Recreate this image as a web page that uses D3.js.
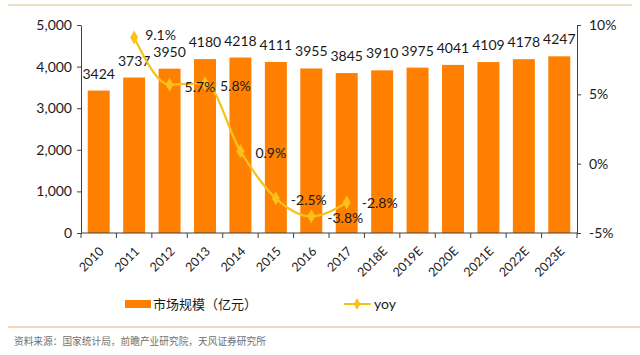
<!DOCTYPE html>
<html><head><meta charset="utf-8">
<script src="https://cdn.jsdelivr.net/npm/d3@7"></script>
<style>body{margin:0;background:#fff}svg{display:block;font-family:"Noto Sans CJK SC","Noto Sans",sans-serif}</style>
</head><body><svg id="c" width="640" height="355"></svg>
<script>
const categories=["2010","2011","2012","2013","2014","2015","2016","2017","2018E","2019E","2020E","2021E","2022E","2023E"];
const marketSize=[3424,3737,3950,4180,4218,4111,3955,3845,3910,3975,4041,4109,4178,4247];
const yoyCats=["2011","2012","2013","2014","2015","2016","2017"];
const yoyValues=[9.1,5.7,5.8,0.9,-2.5,-3.8,-2.8];
const leftTicks=[0,1000,2000,3000,4000,5000];
const rightTicks=[-5,0,5,10];

const svg=d3.select("#c");
const L=81,R=577,T=25,B=233;
const x=d3.scaleBand().domain(categories).range([L,R]).paddingInner(0.38).paddingOuter(0.19);
const xb=d3.scaleBand().domain(categories).range([L,R]);
const y=d3.scaleLinear().domain([0,5000]).range([B,T]);
const y2=d3.scaleLinear().domain([-5,10]).range([B,T]);
const NUM='Lato, "Liberation Sans", sans-serif';
const INK="#1a1a1a";

svg.append("line").attr("x1",8).attr("x2",632).attr("y1",5).attr("y2",5).attr("stroke","#e3d3b3").attr("stroke-width",1.5);

svg.append("g").selectAll("rect").data(marketSize).join("rect")
 .attr("x",(d,i)=>x(categories[i])).attr("width",x.bandwidth())
 .attr("y",d=>y(d)).attr("height",d=>B-y(d)).attr("fill","#ff8000");

svg.append("g").selectAll("text").data(marketSize).join("text")
 .attr("x",(d,i)=>xb(categories[i])+xb.bandwidth()/2).attr("y",d=>y(d)-12)
 .attr("text-anchor","middle").attr("font-size",14).attr("fill",INK).attr("font-family",NUM)
 .text(d=>d);

// axes
const ga=svg.append("g").attr("transform",`translate(${L},0)`).call(d3.axisLeft(y).tickValues(leftTicks).tickFormat(d3.format(",")).tickSize(4).tickSizeOuter(0));
ga.selectAll("text").attr("font-size",14).attr("fill",INK).attr("x",-9).attr("font-family",NUM);
const gr=svg.append("g").attr("transform",`translate(${R},0)`).call(d3.axisRight(y2).tickValues(rightTicks).tickFormat(d=>d+"%").tickSize(4).tickSizeOuter(0));
gr.selectAll("text").attr("font-size",14).attr("fill",INK).attr("x",12).attr("font-family",NUM);
[ga,gr].forEach(g=>{g.selectAll("line,path").attr("stroke","#404040");});
const gx=svg.append("g").attr("transform",`translate(0,${B})`);
gx.append("line").attr("x1",L).attr("x2",R).attr("stroke","#404040");
gx.selectAll("line.t").data(d3.range(categories.length+1)).join("line").attr("class","t")
 .attr("x1",i=>L+i*xb.step()).attr("x2",i=>L+i*xb.step()).attr("y1",0).attr("y2",5).attr("stroke","#404040");
gx.selectAll("text").data(categories).join("text")
 .attr("transform",d=>`translate(${xb(d)+xb.bandwidth()/2+6},${19}) rotate(-45)`)
 .attr("text-anchor","end").attr("font-size",12.5).attr("fill",INK).attr("font-family",NUM).text(d=>d);

// yoy line
const cx=c=>xb(c)+xb.bandwidth()/2;
const line=d3.line().x((d,i)=>cx(yoyCats[i])).y(d=>y2(d)).curve(d3.curveMonotoneX);
svg.append("path").datum(yoyValues).attr("d",line).attr("fill","none").attr("stroke","#f7c21a").attr("stroke-width",2.2);
svg.append("g").selectAll("path").data(yoyValues).join("path")
 .attr("transform",(d,i)=>`translate(${cx(yoyCats[i])},${y2(d)})`)
 .attr("d",d3.symbol(d3.symbolDiamond,55)).attr("fill","#f7c21a");
const lblOff=[[11,3],[15,7],[15,8],[15,7],[15,7],[16,7],[15,6]];
svg.append("g").selectAll("text").data(yoyValues).join("text")
 .attr("x",(d,i)=>cx(yoyCats[i])+lblOff[i][0]).attr("y",(d,i)=>y2(d)+lblOff[i][1])
 .attr("font-size",14).attr("fill",INK).attr("font-family",NUM)
 .text(d=>d.toFixed(1)+"%");

// legend
svg.append("rect").attr("x",125).attr("y",300).attr("width",26).attr("height",8).attr("fill","#ff8000");
svg.append("text").attr("x",153).attr("y",309).attr("font-size",13).attr("fill",INK).text("市场规模（亿元）");
svg.append("line").attr("x1",344).attr("x2",371).attr("y1",304).attr("y2",304).attr("stroke","#f7c21a").attr("stroke-width",2);
svg.append("path").attr("transform","translate(357,304)").attr("d",d3.symbol(d3.symbolDiamond,40)).attr("fill","#f7c21a");
svg.append("text").attr("x",374).attr("y",309).attr("font-size",14).attr("fill",INK).attr("font-family",NUM).text("yoy");

svg.append("line").attr("x1",8).attr("x2",640).attr("y1",327).attr("y2",327).attr("stroke","#f3c4a4").attr("stroke-width",1.5);
svg.append("text").attr("x",14).attr("y",345).attr("font-size",9.7).attr("fill","#707070").text("资料来源：国家统计局，前瞻产业研究院，天风证券研究所");
</script></body></html>
